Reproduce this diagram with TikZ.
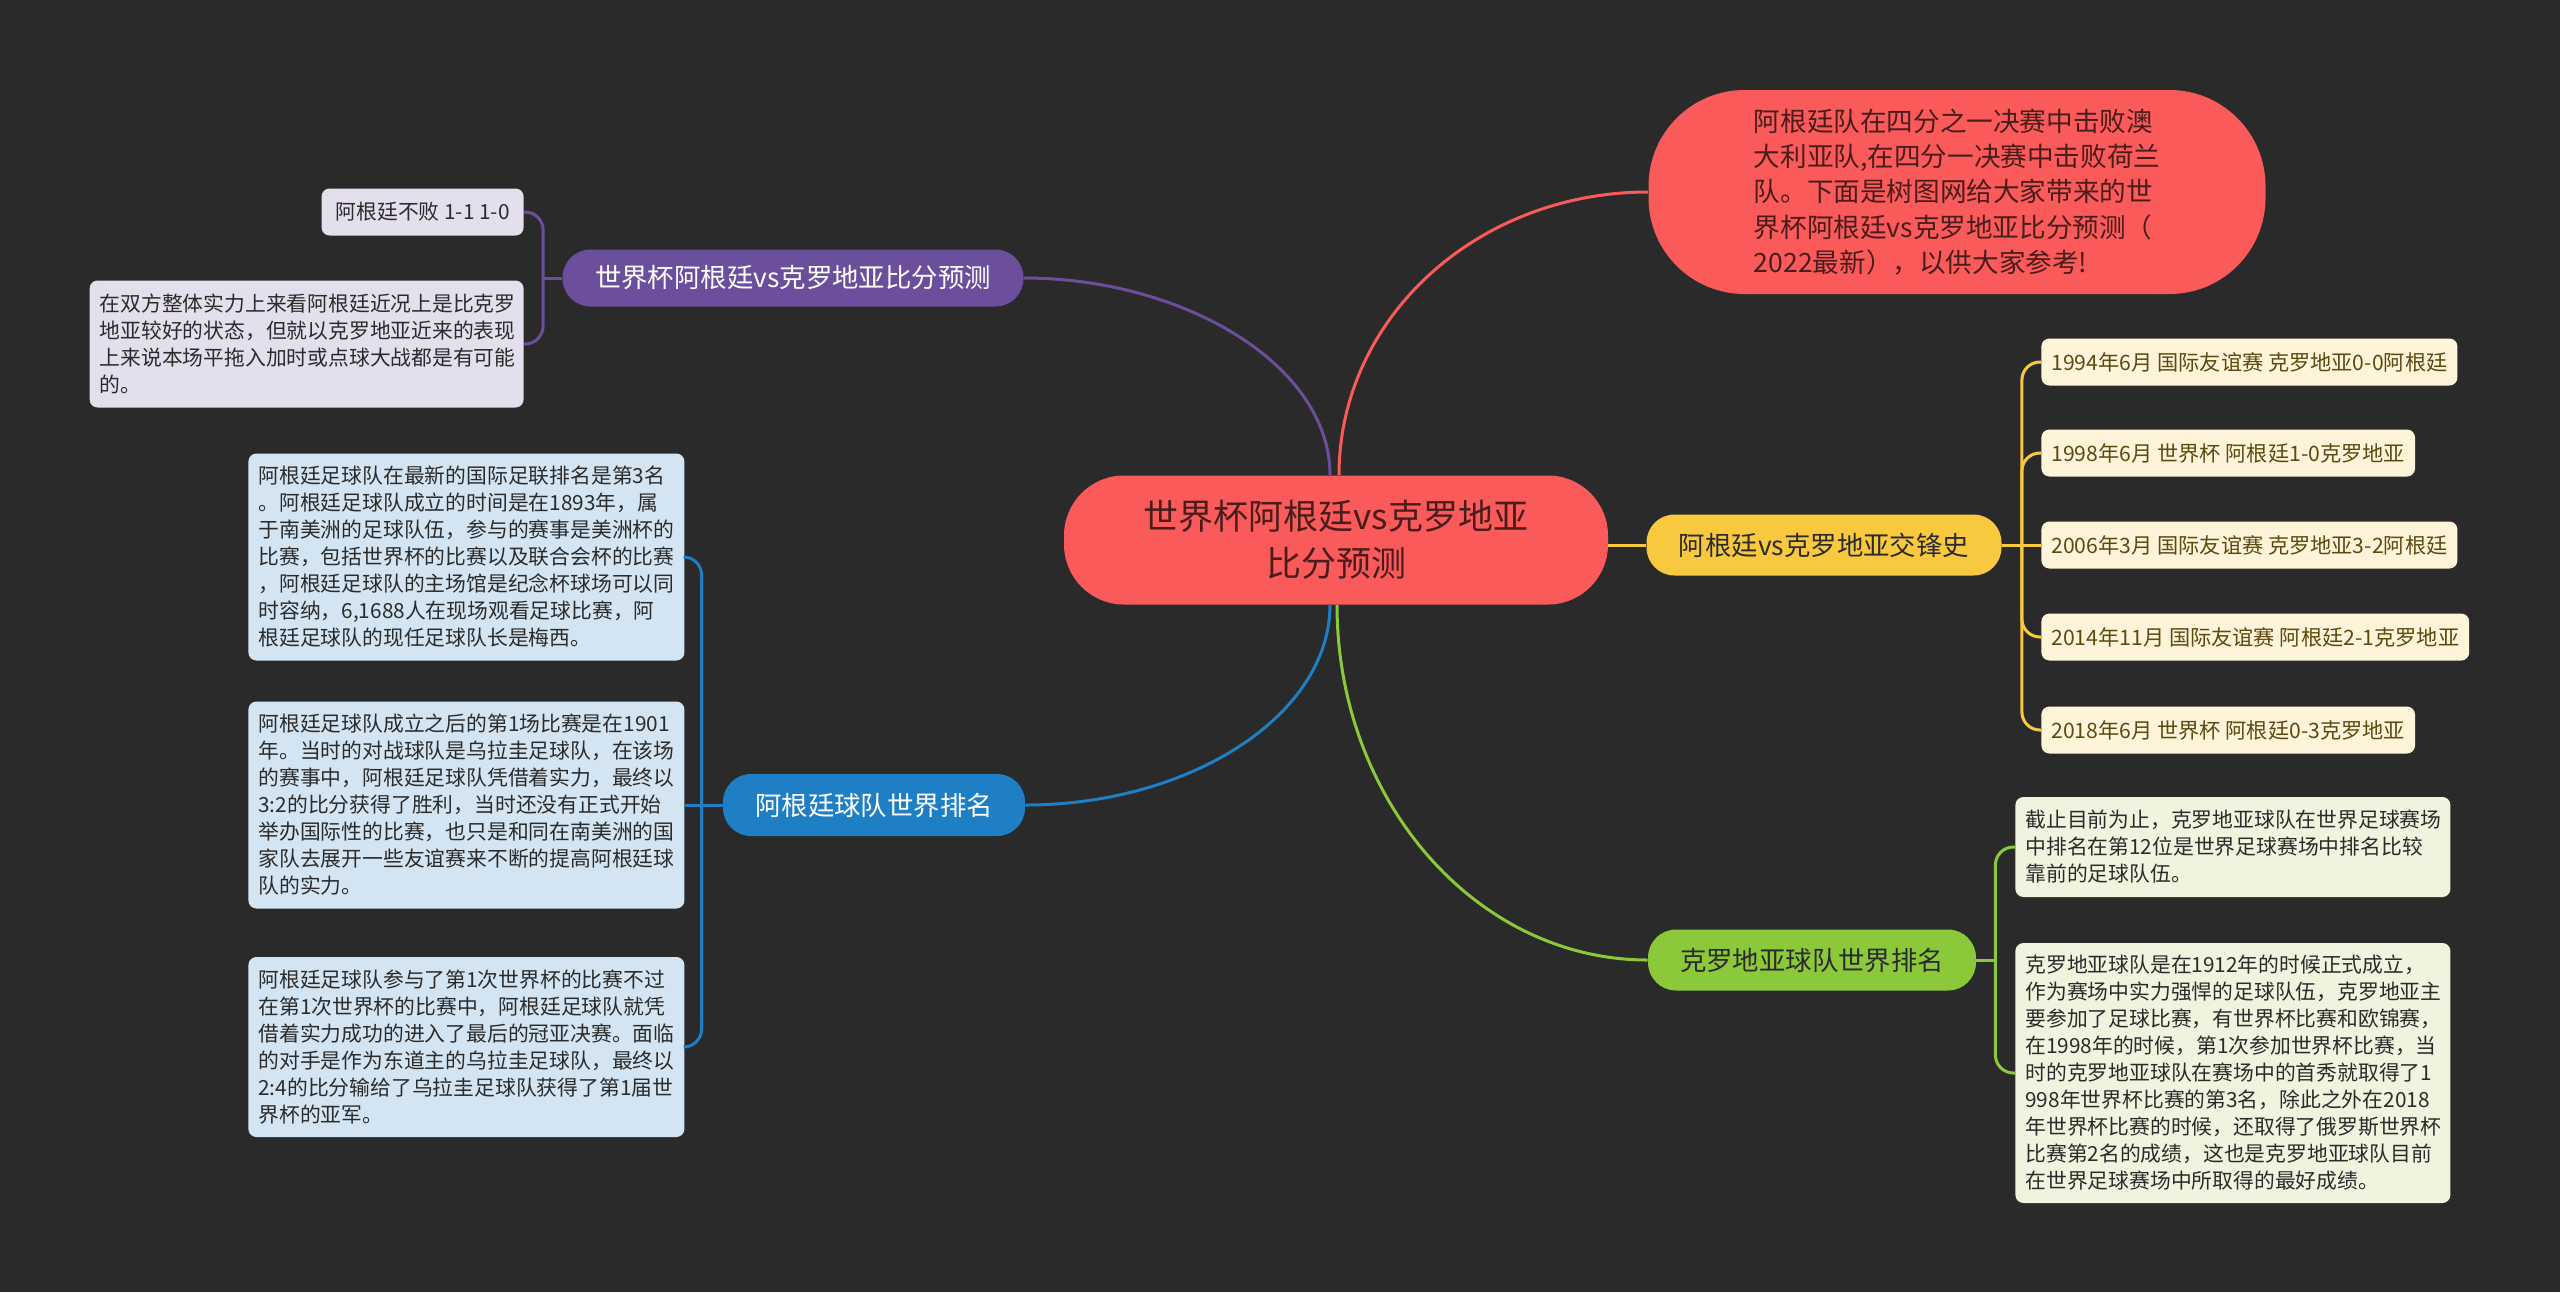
\documentclass[tikz,border=0pt]{standalone}
\usepackage{fontspec}
\setmainfont{Noto Sans CJK SC}
\definecolor{bgc}{HTML}{2A2A2A}
\definecolor{cred}{HTML}{FA5A5A}
\definecolor{credtxt}{HTML}{4A1C1C}
\definecolor{cpur}{HTML}{6C4F9C}
\definecolor{cpurleaf}{HTML}{E4DFEC}
\definecolor{cblue}{HTML}{1F7FC4}
\definecolor{cblueleaf}{HTML}{D3E5F2}
\definecolor{cyel}{HTML}{F8C93E}
\definecolor{cyelleaf}{HTML}{FDF4DA}
\definecolor{cyeltxt}{HTML}{5C4A10}
\definecolor{cgrn}{HTML}{8BC83A}
\definecolor{cgrnleaf}{HTML}{EEF4DD}
\definecolor{leaftxt}{HTML}{2B2B2B}
\begin{document}
\begin{tikzpicture}[x=0.5pt,y=-0.5pt,
  mainnode/.style={align=center,inner sep=0pt},
  branchnode/.style={align=center,inner sep=0pt,rounded corners=14pt,
     minimum height=30pt,font=\fontsize{13.2}{16}\selectfont},
  leafnode/.style={align=left,inner xsep=5pt,inner ysep=0pt,rounded corners=4pt,
     font=\fontsize{10.4}{13.5}\selectfont,text=leaftxt},
  yleaf/.style={align=left,inner xsep=5pt,inner ysep=0pt,rounded corners=4pt,
     minimum height=23.5pt,anchor=west,fill=cyelleaf,text=cyeltxt,
     font=\fontsize{10.6}{13}\selectfont},
  conn/.style={line width=1.5pt},
  brk/.style={line width=1.5pt,rounded corners=9pt}]
\fill[bgc] (0,0) rectangle (2560,1292);
\useasboundingbox (0,0) rectangle (2560,1292);

% central
\node[mainnode,fill=cred,text=credtxt,minimum width=272pt,minimum height=64.5pt,
  rounded corners=30pt,font=\fontsize{17.5}{23.5}\selectfont] (c) at (1336,540)
  {世界杯阿根廷vs克罗地亚\\比分预测};

% top red node
\node[mainnode,fill=cred,text=credtxt,minimum width=308.5pt,minimum height=102pt,
  rounded corners=48pt,align=left,font=\fontsize{13.3}{17.6}\selectfont] (r) at (1957,192)
  {阿根廷队在四分之一决赛中击败澳\\大利亚队,在四分一决赛中击败荷兰\\队。下面是树图网给大家带来的世\\界杯阿根廷vs克罗地亚比分预测（\\2022最新），以供大家参考!};

% purple branch
\node[branchnode,fill=cpur,text=white,minimum width=230.5pt,minimum height=28.5pt] (p) at (793,278)
  {世界杯阿根廷vs克罗地亚比分预测};
\node[leafnode,fill=cpurleaf,anchor=east,minimum width=101pt,minimum height=23.5pt] (pl1) at (524,212)
  {阿根廷不败 1-1 1-0};
\node[leafnode,fill=cpurleaf,anchor=east,text width=207pt,minimum height=63.5pt] (pl2) at (524,344)
  {在双方整体实力上来看阿根廷近况上是比克罗\\地亚较好的状态，但就以克罗地亚近来的表现\\上来说本场平拖入加时或点球大战都是有可能\\的。};

% blue branch
\node[branchnode,fill=cblue,text=white,minimum width=151pt,minimum height=31pt] (b) at (874,805)
  {阿根廷球队世界排名};
\node[leafnode,fill=cblueleaf,anchor=west,text width=208pt,minimum height=103.5pt] (bl1) at (248,557)
  {阿根廷足球队在最新的国际足联排名是第3名\\。阿根廷足球队成立的时间是在1893年，属\\于南美洲的足球队伍，参与的赛事是美洲杯的\\比赛，包括世界杯的比赛以及联合会杯的比赛\\，阿根廷足球队的主场馆是纪念杯球场可以同\\时容纳，6,1688人在现场观看足球比赛，阿\\根廷足球队的现任足球队长是梅西。};
\node[leafnode,fill=cblueleaf,anchor=west,text width=208pt,minimum height=103.5pt] (bl2) at (248,805)
  {阿根廷足球队成立之后的第1场比赛是在1901\\年。当时的对战球队是乌拉圭足球队，在该场\\的赛事中，阿根廷足球队凭借着实力，最终以\\3:2的比分获得了胜利，当时还没有正式开始\\举办国际性的比赛，也只是和同在南美洲的国\\家队去展开一些友谊赛来不断的提高阿根廷球\\队的实力。};
\node[leafnode,fill=cblueleaf,anchor=west,text width=208pt,minimum height=90pt] (bl3) at (248,1047)
  {阿根廷足球队参与了第1次世界杯的比赛不过\\在第1次世界杯的比赛中，阿根廷足球队就凭\\借着实力成功的进入了最后的冠亚决赛。面临\\的对手是作为东道主的乌拉圭足球队，最终以\\2:4的比分输给了乌拉圭足球队获得了第1届世\\界杯的亚军。};

% yellow branch
\node[branchnode,fill=cyel,text=leaftxt,minimum width=177.5pt,minimum height=30.5pt] (ny) at (1824,545)
  {阿根廷vs克罗地亚交锋史};
\node[yleaf] (yl1) at (2041,362) {1994年6月 国际友谊赛 克罗地亚0-0阿根廷};
\node[yleaf] (yl2) at (2041,453) {1998年6月 世界杯 阿根廷1-0克罗地亚};
\node[yleaf] (yl3) at (2041,545) {2006年3月 国际友谊赛 克罗地亚3-2阿根廷};
\node[yleaf] (yl4) at (2041,637) {2014年11月 国际友谊赛 阿根廷2-1克罗地亚};
\node[yleaf] (yl5) at (2041,730) {2018年6月 世界杯 阿根廷0-3克罗地亚};

% green branch
\node[branchnode,fill=cgrn,text=leaftxt,minimum width=164pt,minimum height=30.5pt] (g) at (1812,960)
  {克罗地亚球队世界排名};
\node[leafnode,fill=cgrnleaf,anchor=west,text width=207.5pt,minimum height=50pt] (gl1) at (2015,847)
  {截止目前为止，克罗地亚球队在世界足球赛场\\中排名在第12位是世界足球赛场中排名比较\\靠前的足球队伍。};
\node[leafnode,fill=cgrnleaf,anchor=west,text width=207.5pt,minimum height=130pt] (gl2) at (2015,1073)
  {克罗地亚球队是在1912年的时候正式成立，\\作为赛场中实力强悍的足球队伍，克罗地亚主\\要参加了足球比赛，有世界杯比赛和欧锦赛，\\在1998年的时候，第1次参加世界杯比赛，当\\时的克罗地亚球队在赛场中的首秀就取得了1\\998年世界杯比赛的第3名，除此之外在2018\\年世界杯比赛的时候，还取得了俄罗斯世界杯\\比赛第2名的成绩，这也是克罗地亚球队目前\\在世界足球赛场中所取得的最好成绩。};

% main connectors
\draw[conn,cpur] ([xshift=-3pt]c.north) .. controls +(0,-110) and +(160,0) .. (p.east);
\draw[conn,cred] ([xshift=1.5pt]c.north) .. controls +(0,-157) and +(-171,0) .. (r.west);
\draw[conn,cblue] ([xshift=-3pt]c.south) .. controls +(0,110) and +(165,0) .. (b.east);
\draw[conn,cgrn] ([xshift=0.5pt]c.south) .. controls +(0,195) and +(-172,0) .. (g.west);
\draw[conn,cyel] (ny.west -| c.east) -- (ny.west);

% brackets
\coordinate (pj) at ([xshift=-9.5pt]p.west);
\draw[conn,cpur] (p.west) -- (pj);
\draw[brk,cpur] (pj) |- (pl1.east);
\draw[brk,cpur] (pj) |- (pl2.east);

\coordinate (bj) at ([xshift=-10.5pt]b.west);
\draw[conn,cblue] (b.west) -- (bj);
\draw[brk,cblue] (bj) |- (bl1.east);
\draw[conn,cblue] (bj) -- (bl2.east);
\draw[brk,cblue] (bj) |- (bl3.east);

\coordinate (yj) at ([xshift=10pt]ny.east);
\draw[conn,cyel] (ny.east) -- (yj);
\draw[brk,cyel] (yj) |- (yl1.west);
\draw[brk,cyel] (yj) |- (yl2.west);
\draw[conn,cyel] (yj) -- (yl3.west);
\draw[brk,cyel] (yj) |- (yl4.west);
\draw[brk,cyel] (yj) |- (yl5.west);

\coordinate (gj) at ([xshift=9.5pt]g.east);
\draw[conn,cgrn] (g.east) -- (gj);
\draw[brk,cgrn] (gj) |- (gl1.west);
\draw[brk,cgrn] (gj) |- (gl2.west);
\end{tikzpicture}
\end{document}
